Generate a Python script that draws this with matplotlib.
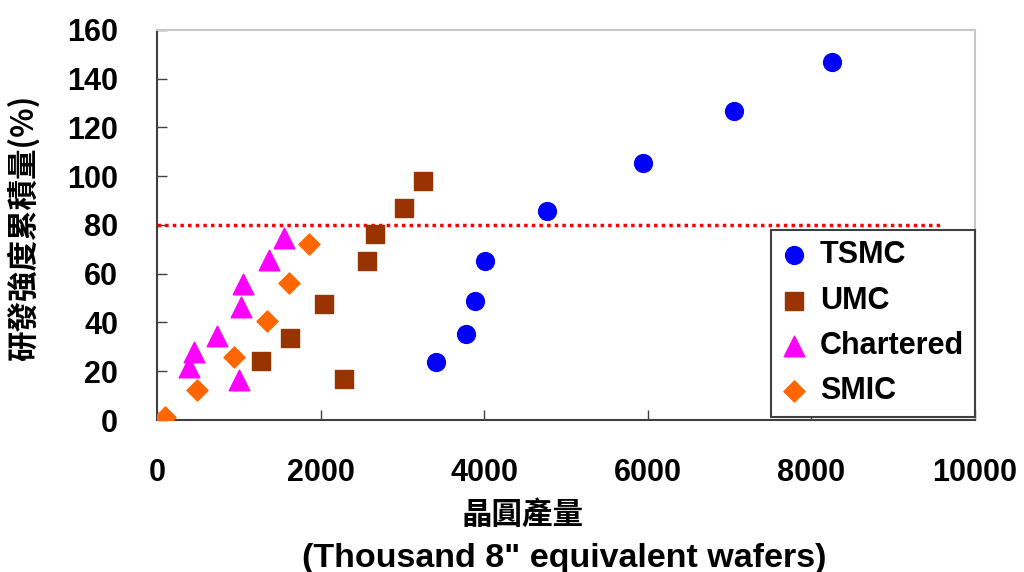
import matplotlib
matplotlib.use("Agg")
import matplotlib.pyplot as plt

plt.rcParams['font.family'] = ['Liberation Sans', 'Noto Sans CJK TC', 'DejaVu Sans']

tsmc_x = [3410, 3780, 3890, 4010, 4770, 5940, 7060, 8250]
tsmc_y = [23.7, 35.3, 49.0, 65.2, 85.7, 105.4, 126.8, 146.9]
umc_x = [1270, 1630, 2040, 2290, 2570, 2660, 3020, 3250]
umc_y = [24.3, 33.8, 47.6, 16.8, 65.2, 76.2, 87.1, 98.0]
chartered_x = [390, 455, 730, 1000, 1025, 1055, 1370, 1550]
chartered_y = [21.9, 28.0, 34.5, 16.4, 46.5, 55.7, 65.6, 74.5]
smic_x = [100, 485, 945, 1350, 1620, 1855]
smic_y = [1.4, 12.3, 26.0, 40.6, 56.0, 72.0]
threshold = 80
threshold_x = [0, 9600]

xticks = [0, 2000, 4000, 6000, 8000, 10000]
yticks = [0, 20, 40, 60, 80, 100, 120, 140, 160]

fig = plt.figure(figsize=(10.24, 5.72), dpi=100)
ax = fig.add_axes([0.1533, 0.2657, 0.7988, 0.682])

ax.scatter(tsmc_x, tsmc_y, marker='o', s=165, color='#0000FF', label='TSMC', zorder=3)
ax.scatter(umc_x, umc_y, marker='s', s=170, color='#993300', label='UMC', zorder=3)
ax.scatter(chartered_x, chartered_y, marker='^', s=220, color='#FF00FF', label='Chartered', zorder=3)
ax.scatter(smic_x, smic_y, marker='D', s=115, color='#FF6600', label='SMIC', zorder=3)

ax.plot(threshold_x, [threshold, threshold], color='#FF0000', linestyle=(0, (1, 1.2)), linewidth=2.5, zorder=2)

ax.set_xlim(0, 10000)
ax.set_ylim(0, 160)
ax.set_xticks(xticks)
ax.set_yticks(yticks)
ax.tick_params(direction='in', length=7, width=1, colors='#404040', labelcolor='black',
               labelsize=22)
ax.tick_params(axis='y', pad=28)
ax.tick_params(axis='x', pad=27)
for lab in ax.get_xticklabels() + ax.get_yticklabels():
    lab.set_fontweight('bold')

ax.spines['left'].set_color('#404040')
ax.spines['bottom'].set_color('#404040')
ax.spines['top'].set_color('#C8C8C8')
ax.spines['right'].set_color('#C8C8C8')
for sp in ax.spines.values():
    sp.set_linewidth(1.5)

fig.text(0.0235, 1 - 228 / 572, '研發強度累積量(%)', fontsize=22, fontweight='bold',
         rotation=90, ha='center', va='center',
         family=['Noto Sans CJK TC', 'Liberation Sans'])
fig.text(523 / 1024, 1 - 515 / 572, '晶圓產量', fontsize=22, fontweight='bold',
         ha='center', va='center', family=['Noto Sans CJK TC', 'Liberation Sans'])
fig.text(564 / 1024, 1 - 558 / 572, '(Thousand 8" equivalent wafers)', fontsize=24.5,
         fontweight='bold', ha='center', va='center')

leg = ax.legend(loc='lower right', bbox_to_anchor=(1.0, 0.008), frameon=True, fancybox=False,
                prop={'size': 22, 'weight': 'bold'}, handletextpad=0.45, borderpad=0.35,
                labelspacing=0.5, handlelength=0.8, borderaxespad=0)
leg.get_frame().set_edgecolor('#404040')
leg.get_frame().set_linewidth(1.5)
leg.get_frame().set_alpha(1)

fig.savefig('out.png', dpi=100)
